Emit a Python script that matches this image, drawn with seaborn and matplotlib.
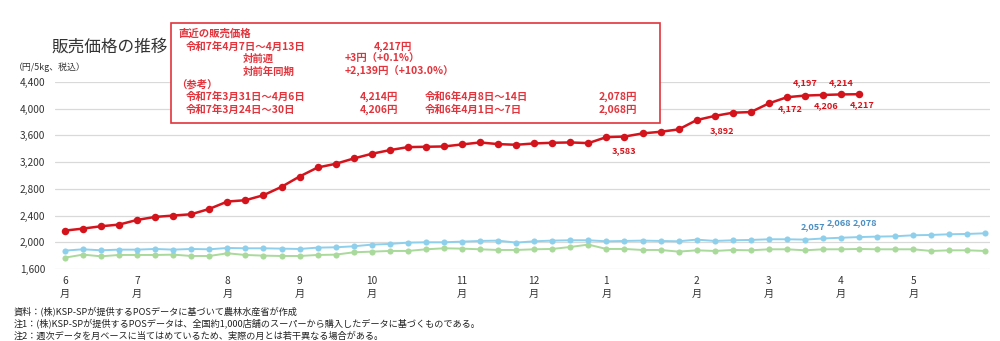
import matplotlib
matplotlib.use("Agg")
import matplotlib.pyplot as plt
import matplotlib.patches as patches
import matplotlib.ticker as mticker
import seaborn as sns
import pandas as pd

# ---------------- data ----------------
months = ["6", "7", "8", "9", "10", "11", "12", "1", "2", "3", "4", "5"]
month_pos = [0, 4, 9, 13, 17, 22, 26, 30, 35, 39, 43, 47]

price_r7 = [2175, 2205, 2240, 2265, 2335, 2380, 2400, 2420, 2500, 2610,
            2630, 2705, 2830, 2985, 3120, 3175, 3255, 3325, 3380, 3425,
            3430, 3435, 3465, 3495, 3470, 3460, 3480, 3490, 3495, 3485,
            3575, 3583, 3630, 3655, 3690, 3830, 3892, 3940, 3950, 4080,
            4172, 4197, 4206, 4214, 4217]
price_r6 = [1875, 1895, 1880, 1890, 1890, 1900, 1890, 1900, 1895, 1915,
            1910, 1910, 1905, 1900, 1920, 1925, 1940, 1965, 1975, 1995,
            2000, 2000, 2010, 2020, 2025, 1995, 2015, 2025, 2030, 2030,
            2015, 2020, 2025, 2020, 2015, 2040, 2020, 2030, 2035, 2045,
            2045, 2040, 2057, 2068, 2078, 2085, 2090, 2105, 2110, 2120,
            2125, 2135]
price_r5 = [1770, 1815, 1790, 1810, 1810, 1810, 1815, 1795, 1795, 1835,
            1810, 1800, 1795, 1795, 1810, 1815, 1850, 1860, 1870, 1870,
            1895, 1910, 1905, 1895, 1885, 1885, 1895, 1900, 1930, 1965,
            1900, 1900, 1885, 1885, 1860, 1880, 1870, 1885, 1880, 1895,
            1895, 1880, 1895, 1895, 1900, 1895, 1895, 1895, 1870, 1880,
            1880, 1870]

y_ticks = [1600, 2000, 2400, 2800, 3200, 3600, 4000, 4400]

red_labels_idx = [31, 36, 40, 41, 42, 43, 44]
blue_labels_idx = [42, 43, 44]

# ---------------- style ----------------
sns.set_theme(style="white")
plt.rcParams['font.family'] = ['Noto Sans CJK JP', 'DejaVu Sans']

RED = "#d4141c"
BLUE = "#8ed0ec"
GREEN = "#a9d99b"
BOXRED = "#e2343c"

fig = plt.figure(figsize=(10, 3.41), dpi=100)
W, H = 1000, 341
ax = fig.add_axes([55 / W, (H - 269) / H, 935 / W, (269 - 82) / H])

df5 = pd.DataFrame({"week": range(len(price_r5)), "price": price_r5})
df6 = pd.DataFrame({"week": range(len(price_r6)), "price": price_r6})
df7 = pd.DataFrame({"week": range(len(price_r7)), "price": price_r7})

sns.lineplot(data=df5, x="week", y="price", ax=ax, color=GREEN, lw=1.4,
             marker="o", markersize=4.4, markeredgewidth=0, zorder=3)
sns.lineplot(data=df6, x="week", y="price", ax=ax, color=BLUE, lw=1.4,
             marker="o", markersize=4.4, markeredgewidth=0, zorder=4)
sns.lineplot(data=df7, x="week", y="price", ax=ax, color=RED, lw=1.8,
             marker="o", markersize=5.4, markeredgewidth=0, zorder=5)

ax.set_xlim(-0.55, 51.25)
ax.set_ylim(1600, 4400)
ax.set_yticks(y_ticks)
ax.yaxis.set_major_formatter(mticker.FuncFormatter(lambda v, p: f"{int(v):,}"))
ax.set_xticks(month_pos)
ax.set_xticklabels([m + "\n月" for m in months], linespacing=1.4)
ax.tick_params(axis="both", length=0, labelsize=7.3, colors="#333333")
ax.tick_params(axis="y", pad=7)
ax.tick_params(axis="x", pad=5)
ax.grid(axis="y", color="#d9d9d9", lw=0.9)
ax.set_axisbelow(True)
for s in ax.spines.values():
    s.set_visible(False)
ax.set_xlabel("")
ax.set_ylabel("")

# data labels (red)
red_off = {31: (0, -14), 36: (7, -15), 40: (3, -11), 41: (0, 13),
           42: (3, -11), 43: (0, 12), 44: (3, -10)}
for i in red_labels_idx:
    dx, dy = red_off[i]
    ax.annotate(f"{price_r7[i]:,}", (i, price_r7[i]),
                xytext=(dx * 0.72, dy * 0.72), textcoords="offset points",
                ha="center", va="center", fontsize=6.6, color=RED,
                fontweight="bold", zorder=6)
blue_off = {42: (-10, 12), 43: (-2, 15), 44: (6, 14)}
for i in blue_labels_idx:
    dx, dy = blue_off[i]
    ax.annotate(f"{price_r6[i]:,}", (i, price_r6[i]),
                xytext=(dx * 0.72, dy * 0.72), textcoords="offset points",
                ha="center", va="center", fontsize=6.6, color="#4a8ec2",
                fontweight="bold", zorder=6)

# ---------------- texts ----------------
def ftext(x, y, s, **kw):
    fig.text(x / W, 1 - y / H, s, **kw)

ftext(52, 47, "販売価格の推移", fontsize=12, color="#333333", va="center")
ftext(14, 67, "（円/5kg、税込）", fontsize=6.4, color="#333333", va="center")

box = patches.Rectangle((171 / W, 1 - 123 / H), 489 / W, 100 / H,
                        transform=fig.transFigure, facecolor="white",
                        edgecolor=BOXRED, lw=1.2, zorder=10)
fig.add_artist(box)

bkw = dict(fontsize=7.5, color=BOXRED, fontweight="bold", va="center", zorder=11)
ftext(178, 34, "直近の販売価格", **bkw)
ftext(186, 46.5, "令和7年4月7日～4月13日", **bkw)
ftext(412, 46.5, "4,217円", ha="right", **bkw)
ftext(243, 59, "対前週", **bkw)
ftext(345, 59, "+3円（+0.1%）", **bkw)
ftext(243, 71.5, "対前年同期", **bkw)
ftext(345, 71.5, "+2,139円（+103.0%）", **bkw)
ftext(176, 84, "（参考）", **bkw)
ftext(186, 97, "令和7年3月31日～4月6日", **bkw)
ftext(398, 97, "4,214円", ha="right", **bkw)
ftext(425, 97, "令和6年4月8日～14日", **bkw)
ftext(637, 97, "2,078円", ha="right", **bkw)
ftext(186, 109.5, "令和7年3月24日～30日", **bkw)
ftext(398, 109.5, "4,206円", ha="right", **bkw)
ftext(425, 109.5, "令和6年4月1日～7日", **bkw)
ftext(637, 109.5, "2,068円", ha="right", **bkw)

nkw = dict(fontsize=6.6, color="#222222", va="center")
ftext(14, 311, "資料：(株)KSP-SPが提供するPOSデータに基づいて農林水産省が作成", **nkw)
ftext(14, 323.5, "注1：(株)KSP-SPが提供するPOSデータは、全国約1,000店舗のスーパーから購入したデータに基づくものである。", **nkw)
ftext(14, 336, "注2：週次データを月ベースに当てはめているため、実際の月とは若干異なる場合がある。", **nkw)

fig.savefig("out.png", dpi=100, facecolor="white")
